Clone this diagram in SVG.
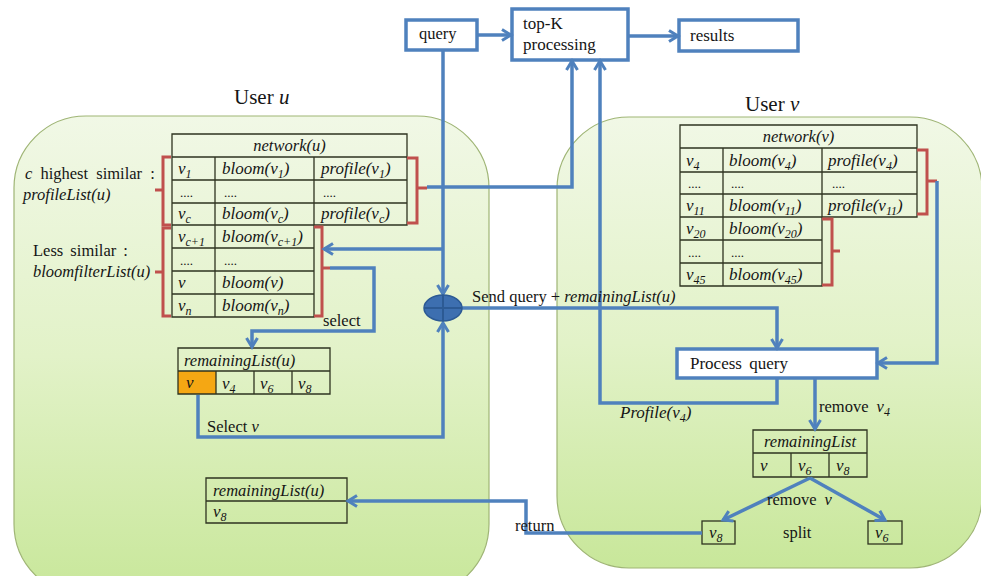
<svg xmlns="http://www.w3.org/2000/svg" width="981" height="576" viewBox="0 0 981 576" font-family="'Liberation Serif', 'Times New Roman', 'DejaVu Serif', serif">
<defs>
<linearGradient id="pg" x1="0" y1="0" x2="0" y2="1">
<stop offset="0" stop-color="#f1f8e6"/>
<stop offset="0.5" stop-color="#e2f2c8"/>
<stop offset="1" stop-color="#c8e79a"/>
</linearGradient>
<marker id="ah" markerWidth="14" markerHeight="14" refX="11" refY="7" orient="auto" markerUnits="userSpaceOnUse">
<path d="M2,1.5 L11,7 L2,12.5" fill="none" stroke="#4f81bd" stroke-width="3"/>
</marker>
<style>
text{font-family:'Liberation Serif','Times New Roman','DejaVu Serif',serif}
.panel{fill:url(#pg);stroke:#9fb575;stroke-width:1.2}
.tbl{fill:none;stroke:#2e3320;stroke-width:1.3}
.c{font-size:17px;font-style:italic;fill:#151515}
.h{font-size:16.5px;font-style:italic;fill:#151515}
.t{font-size:16.5px;fill:#151515}
.i{font-style:italic}
.s{font-size:12px}
.dots{font-size:13px;fill:#151515}
.conn{fill:none;stroke:#4f81bd;stroke-width:3.5}
.br{fill:none;stroke:#c0504d;stroke-width:3}
.box{fill:#ffffff;stroke:#4f81bd;stroke-width:3.5}
</style>
</defs>
<rect width="981" height="576" fill="#ffffff"/>

<g id="panelU">
<rect class="panel" x="14" y="116" width="475" height="480" rx="72" ry="72"/>
<text class="t" x="234" y="104" style="font-size:21px">User <tspan class="i">u</tspan></text>
</g>
<g id="panelV">
<rect class="panel" x="557" y="117" width="425" height="451" rx="72" ry="72"/>
<text class="t" x="745" y="111" style="font-size:21px">User <tspan class="i">v</tspan></text>
</g>

<g id="query">
<rect class="box" x="406" y="20" width="71" height="30"/>
<text class="t" x="419" y="39">query</text>
</g>
<g id="topk">
<rect class="box" x="512" y="9" width="116" height="51"/>
<text class="t" x="523" y="29" style="font-size:17px">top-K</text>
<text class="t" x="523" y="50" style="font-size:17px">processing</text>
</g>
<g id="results">
<rect class="box" x="679" y="20" width="119" height="31"/>
<text class="t" x="690" y="41" style="font-size:17px">results</text>
</g>

<g id="networkU">
<path class="tbl" d="M172,134 H407 V225 H314 V317 H172 Z M172,157 H407 M172,180 H407 M172,203 H407 M172,225 H314 M172,248 H314 M172,271 H314 M172,294 H314 M215,157 V317 M314,157 V225"/>
<text class="h" x="289.5" y="151" text-anchor="middle">network(u)</text>
<text class="c" x="178" y="174">v<tspan class="s" dy="4">1</tspan></text>
<text class="c" x="222" y="174">bloom(v<tspan class="s" dy="4">1</tspan><tspan dy="-4">)</tspan></text>
<text class="c" x="321" y="174">profile(v<tspan class="s" dy="4">1</tspan><tspan dy="-4">)</tspan></text>
<text class="dots" x="180" y="197">....</text>
<text class="dots" x="224" y="197">....</text>
<text class="dots" x="323" y="197">....</text>
<text class="c" x="178" y="219">v<tspan class="s" dy="4">c</tspan></text>
<text class="c" x="222" y="219">bloom(v<tspan class="s" dy="4">c</tspan><tspan dy="-4">)</tspan></text>
<text class="c" x="321" y="219">profile(v<tspan class="s" dy="4">c</tspan><tspan dy="-4">)</tspan></text>
<text class="c" x="178" y="242">v<tspan class="s" dy="4">c+1</tspan></text>
<text class="c" x="222" y="242">bloom(v<tspan class="s" dy="4">c+1</tspan><tspan dy="-4">)</tspan></text>
<text class="dots" x="180" y="265">....</text>
<text class="dots" x="224" y="265">....</text>
<text class="c" x="178" y="288">v</text>
<text class="c" x="222" y="288">bloom(v)</text>
<text class="c" x="178" y="311">v<tspan class="s" dy="4">n</tspan></text>
<text class="c" x="222" y="311">bloom(v<tspan class="s" dy="4">n</tspan><tspan dy="-4">)</tspan></text>
<path class="br" d="M171,157 H163 V225 H171 M163,190 H155"/>
<path class="br" d="M171,228 H163 V316 H171 M163,272 H155"/>
<path class="br" d="M407,158 H417 V223 H407 M417,188 H427"/>
<path class="br" d="M314,227 H322 V316 H314 M322,268 H330"/>
<text class="t" x="25" y="179" word-spacing="4"><tspan class="i">c</tspan> highest similar :</text>
<text class="h" x="23" y="200">profileList(u)</text>
<text class="t" x="33" y="256" word-spacing="3">Less similar :</text>
<text class="h" x="33" y="277">bloomfilterList(u)</text>
</g>

<g id="remainingU1">
<rect x="178" y="371" width="38" height="23" fill="#f5a713"/>
<path class="tbl" d="M178,348 H330 V394 H178 Z M178,371 H330 M216,371 V394 M254,371 V394 M292,371 V394"/>
<text class="h" x="184" y="366">remainingList(u)</text>
<text class="c" x="186" y="388">v</text>
<text class="c" x="222" y="389">v<tspan class="s" dy="4">4</tspan></text>
<text class="c" x="260" y="389">v<tspan class="s" dy="4">6</tspan></text>
<text class="c" x="298" y="389">v<tspan class="s" dy="4">8</tspan></text>
</g>

<g id="remainingU2">
<path class="tbl" d="M206,478 H347 V523 H206 Z M206,501 H347"/>
<text class="h" x="213" y="496">remainingList(u)</text>
<text class="c" x="213" y="517">v<tspan class="s" dy="4">8</tspan></text>
</g>

<g id="networkV">
<path class="tbl" d="M680,125 H917 V217 H822 V286 H680 Z M680,148 H917 M680,172 H917 M680,194 H917 M680,217 H822 M680,240 H822 M680,263 H822 M723,148 V286 M822,148 V217"/>
<text class="h" x="798.5" y="142" text-anchor="middle">network(v)</text>
<text class="c" x="686" y="166">v<tspan class="s" dy="4">4</tspan></text>
<text class="c" x="729" y="166">bloom(v<tspan class="s" dy="4">4</tspan><tspan dy="-4">)</tspan></text>
<text class="c" x="828" y="166">profile(v<tspan class="s" dy="4">4</tspan><tspan dy="-4">)</tspan></text>
<text class="dots" x="688" y="188">....</text>
<text class="dots" x="731" y="188">....</text>
<text class="dots" x="832" y="188">....</text>
<text class="c" x="686" y="211">v<tspan class="s" dy="4">11</tspan></text>
<text class="c" x="729" y="211">bloom(v<tspan class="s" dy="4">11</tspan><tspan dy="-4">)</tspan></text>
<text class="c" x="828" y="211">profile(v<tspan class="s" dy="4">11</tspan><tspan dy="-4">)</tspan></text>
<text class="c" x="686" y="234">v<tspan class="s" dy="4">20</tspan></text>
<text class="c" x="729" y="234">bloom(v<tspan class="s" dy="4">20</tspan><tspan dy="-4">)</tspan></text>
<text class="dots" x="688" y="257">....</text>
<text class="dots" x="731" y="257">....</text>
<text class="c" x="686" y="280">v<tspan class="s" dy="4">45</tspan></text>
<text class="c" x="729" y="280">bloom(v<tspan class="s" dy="4">45</tspan><tspan dy="-4">)</tspan></text>
<path class="br" d="M917,150 H927 V214 H917 M927,181 H937"/>
<path class="br" d="M822,219 H832 V285 H822 M832,251 H840"/>
</g>

<g id="process">
<rect class="box" x="677" y="349" width="200" height="29"/>
<text class="t" x="690" y="369" style="font-size:17px" word-spacing="3">Process query</text>
</g>

<g id="remainingV">
<path class="tbl" d="M753,430 H867 V477 H753 Z M753,453 H867 M791,453 V477 M829,453 V477"/>
<text class="h" x="810" y="447" text-anchor="middle">remainingList</text>
<text class="c" x="760" y="471">v</text>
<text class="c" x="798" y="471">v<tspan class="s" dy="4">6</tspan></text>
<text class="c" x="836" y="471">v<tspan class="s" dy="4">8</tspan></text>
</g>

<g id="v8box">
<rect class="tbl" x="702" y="521" width="33" height="23"/>
<text class="c" x="709" y="538">v<tspan class="s" dy="4">8</tspan></text>
</g>
<g id="v6box">
<rect class="tbl" x="868" y="521" width="34" height="23"/>
<text class="c" x="875" y="538">v<tspan class="s" dy="4">6</tspan></text>
</g>

<g id="connectors">
<path class="conn" d="M477,35 H511" marker-end="url(#ah)"/>
<path class="conn" d="M628,36 H678" marker-end="url(#ah)"/>
<path class="conn" d="M443,50 V294" marker-end="url(#ah)"/>
<path class="conn" d="M443,249 H324" marker-end="url(#ah)"/>
<path class="conn" d="M427,187 H572 V61" marker-end="url(#ah)"/>
<path class="conn" d="M777,378 V403 H600 V61" marker-end="url(#ah)"/>
<path class="conn" d="M330,268 H374 V331 H252 V347" marker-end="url(#ah)"/>
<path class="conn" d="M198,395 V437 H443 V323" marker-end="url(#ah)"/>
<path class="conn" d="M462,308 H777 V348" marker-end="url(#ah)"/>
<path class="conn" d="M937,181 V363 H878" marker-end="url(#ah)"/>
<path class="conn" d="M815,378 V429" marker-end="url(#ah)"/>
<path class="conn" d="M810,478 L723,520" marker-end="url(#ah)"/>
<path class="conn" d="M810,478 L885,520" marker-end="url(#ah)"/>
<path class="conn" d="M702,533 H526 V501 H348" marker-end="url(#ah)"/>
<g id="merge">
<ellipse cx="443" cy="308" rx="19" ry="13" fill="#3d6fb0" stroke="#2c5a94" stroke-width="1.5"/>
<path d="M424,308 H462 M443,295 V321" stroke="#2c5a94" stroke-width="2"/>
</g>
<text class="t" x="323" y="326">select</text>
<text class="t" x="207" y="432">Select <tspan class="i">v</tspan></text>
<text class="t" x="472" y="302">Send query + <tspan class="i">remainingList(u)</tspan></text>
<text class="h" x="620" y="418" style="font-size:17px">Profile(v<tspan class="s" dy="4">4</tspan><tspan dy="-4">)</tspan></text>
<text class="t" x="819" y="412" word-spacing="4">remove <tspan class="i">v</tspan><tspan class="i s" dy="4">4</tspan></text>
<text class="t" x="767" y="505" word-spacing="4">remove <tspan class="i">v</tspan></text>
<text class="t" x="783" y="538">split</text>
<text class="t" x="515" y="531">return</text>
</g>
</svg>
